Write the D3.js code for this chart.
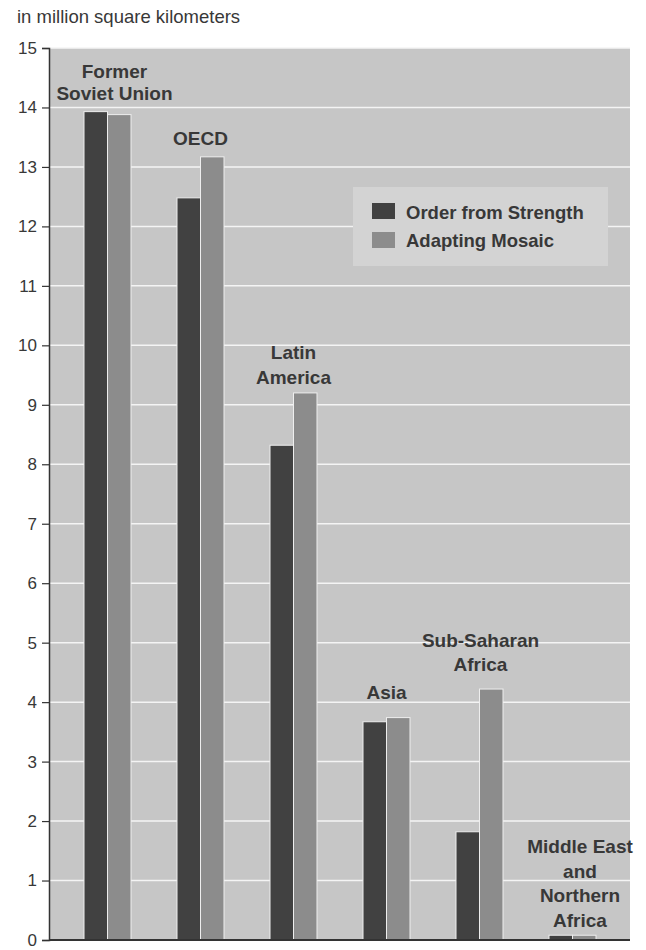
<!DOCTYPE html>
<html><head><meta charset="utf-8">
<script src="https://cdn.jsdelivr.net/npm/d3@7"></script>
<style>body{margin:0;background:#fff}svg{display:block}</style>
</head><body>
<svg id="c" width="646" height="950"></svg>
<script>
const categories = ["Former Soviet Union","OECD","Latin America","Asia","Sub-Saharan Africa","Middle East and Northern Africa"];
const labelLines = [["Former","Soviet Union"],["OECD"],["Latin","America"],["Asia"],["Sub-Saharan","Africa"],["Middle East","and","Northern","Africa"]];
const seriesNames = ["Order from Strength","Adapting Mosaic"];
const orderFromStrength = [13.93, 12.48, 8.32, 3.67, 1.82, 0.08];
const adaptingMosaic = [13.88, 13.17, 9.2, 3.74, 4.22, 0.08];
const yTicks = [0,1,2,3,4,5,6,7,8,9,10,11,12,13,14,15];

const FONT = "Liberation Sans, Arial, Helvetica, sans-serif";
const TXT = "#383838";
const svg = d3.select("#c");
const m = {l:49, r:630, t:48, b:940};
const y = d3.scaleLinear().domain([0,15]).range([m.b, m.t]);
const x = d3.scaleBand().domain(categories).range([61, 619]).paddingInner(0.4946).paddingOuter(0.2473);
const x1 = d3.scaleBand().domain(seriesNames).range([0, x.bandwidth()]);
const colors = {"Order from Strength":"#414141","Adapting Mosaic":"#8c8c8c"};
// label layout: gap between tallest bar and last label baseline, horizontal nudge
const labelGap = [12, 12, 9, 19, 18, 0];
const labelDx = [7, 0, 0, 0, 1, 0];

svg.append("text").attr("x",17).attr("y",23).attr("font-family",FONT)
  .attr("font-size",18.5).attr("fill",TXT).text("in million square kilometers");

svg.append("rect").attr("x",m.l).attr("y",m.t).attr("width",m.r-m.l).attr("height",m.b-m.t).attr("fill","#c6c6c6");

svg.append("g").selectAll("line").data(yTicks.filter(d=>d>0)).join("line")
  .attr("x1",m.l).attr("x2",m.r).attr("y1",d=>y(d)).attr("y2",d=>y(d))
  .attr("stroke","#f4f4f4").attr("stroke-width",1.5);

const g = svg.append("g");
categories.forEach((c,i)=>{
  const vals = [orderFromStrength[i], adaptingMosaic[i]];
  seriesNames.forEach((s,j)=>{
    g.append("rect").attr("x",x(c)+x1(s)).attr("y",y(vals[j])).attr("width",x1.bandwidth())
     .attr("height",y(0)-y(vals[j])).attr("fill",colors[s]).attr("stroke","#eeeeee").attr("stroke-width",1);
  });
  const top = y(Math.max(...vals));
  const lines = labelLines[i];
  let cx = x(c)+x.bandwidth()/2 + labelDx[i];
  const step = i===0 ? 22 : 24.5;
  let baseY = top - labelGap[i] - (lines.length-1)*step;
  if (i===5) { baseY = 853; cx = 580; }
  lines.forEach((t,k)=>{
    svg.append("text").attr("x",cx).attr("y",baseY+k*step).attr("text-anchor","middle")
      .attr("font-family",FONT).attr("font-weight","bold")
      .attr("font-size",19).attr("fill",TXT).text(t);
  });
});

const yAxis = d3.axisLeft(y).tickValues(yTicks).tickSize(7).tickPadding(5);
const ag = svg.append("g").attr("transform",`translate(${m.l},0)`).call(yAxis);
ag.select(".domain").attr("stroke","#333").attr("stroke-width",1.5);
ag.selectAll("line").attr("stroke","#333").attr("stroke-width",1.2);
ag.selectAll("text").attr("font-family",FONT).attr("font-size",17).attr("fill",TXT);

svg.append("line").attr("x1",m.l).attr("x2",m.r).attr("y1",m.b).attr("y2",m.b).attr("stroke","#333").attr("stroke-width",2);

const lg = svg.append("g");
lg.append("rect").attr("x",353).attr("y",187).attr("width",255).attr("height",79).attr("fill","#d3d3d3");
seriesNames.forEach((s,j)=>{
  lg.append("rect").attr("x",372).attr("y",203+j*29).attr("width",23).attr("height",16).attr("fill",colors[s]);
  lg.append("text").attr("x",406).attr("y",219+j*28).attr("font-family",FONT)
    .attr("font-weight","bold").attr("font-size",18.5).attr("fill",TXT).text(s);
});
</script>
</body></html>
